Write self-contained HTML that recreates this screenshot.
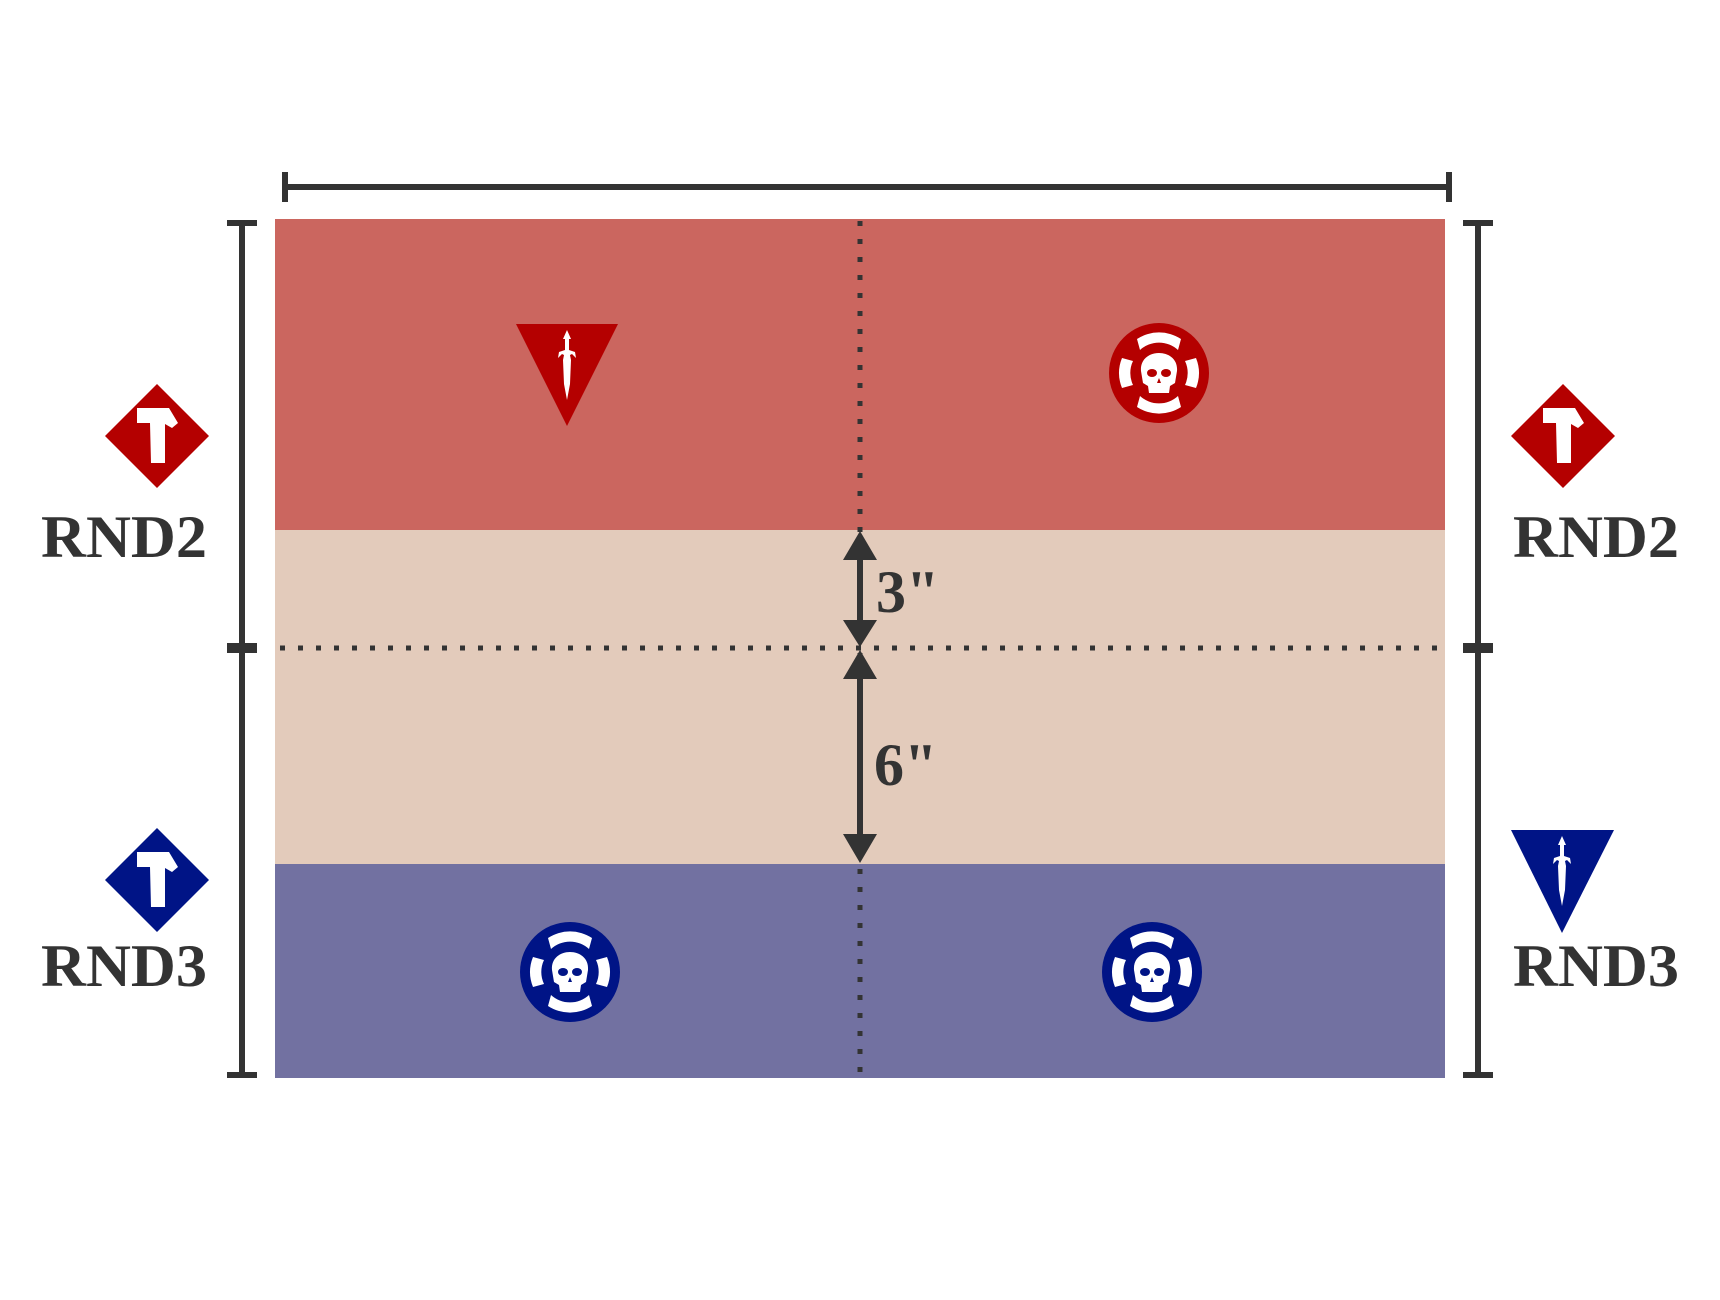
<!DOCTYPE html>
<html><head><meta charset="utf-8"><style>html,body{margin:0;padding:0;background:#fff}svg{display:block}</style></head>
<body>
<svg width="1720" height="1300" viewBox="0 0 1720 1300" xmlns="http://www.w3.org/2000/svg">
<defs>
<g id="skull">
  <path d="M-22,-34 A40,40 0 0 1 22,-34 L19,-23 A28,28 0 0 0 -19,-23 Z" fill="#fff"/>
  <path d="M-22,34 A40,40 0 0 0 22,34 L19,23 A28,28 0 0 1 -19,23 Z" fill="#fff"/>
  <path d="M-37,-15 A40,40 0 0 0 -37,15 L-26,12 A28,28 0 0 1 -26,-12 Z" fill="#fff"/>
  <path d="M37,-15 A40,40 0 0 1 37,15 L26,12 A28,28 0 0 0 26,-12 Z" fill="#fff"/>
  <path d="M-18,-2 C-20,-26 20,-26 18,-2 L16,10 L11,13 L10,20 L-10,20 L-11,13 L-16,10 Z" fill="#fff"/>
  <ellipse cx="-7" cy="0" rx="5" ry="4" fill="currentColor"/>
  <ellipse cx="7" cy="0" rx="5" ry="4" fill="currentColor"/>
  <path d="M0,5 L-2,10 L2,10 Z" fill="currentColor"/>
</g>
<g id="axe">
  <path d="M-20,-27 L12,-27 L21,-12 L15,-7 L8,-11 L8,28 L-6,28 L-7,-12 L-20,-12 Z" fill="#fff"/>
</g>
<g id="dagger">
  <path d="M0,-34 L4,-25 L2,-25 L2,-14 L8,-12 L9,-6 L5,-10 L3,-9 L4,-4 L3,20 L0,36 L-3,20 L-4,-4 L-3,-9 L-5,-10 L-9,-6 L-8,-12 L-2,-14 L-2,-25 L-4,-25 Z" fill="#fff"/>
</g>
</defs>
<rect x="275" y="219" width="1170" height="311" fill="#cb665f"/>
<rect x="275" y="530" width="1170" height="334" fill="#e3cbbb"/>
<rect x="275" y="864" width="1170" height="214" fill="#7271a1"/>
<line x1="860" y1="221" x2="860" y2="1078" stroke="#333" stroke-width="5" stroke-dasharray="5,13"/>
<line x1="280" y1="648" x2="1445" y2="648" stroke="#333" stroke-width="5" stroke-dasharray="5,13"/>
<line x1="285" y1="187" x2="1449" y2="187" stroke="#333" stroke-width="6"/>
<line x1="285" y1="172" x2="285" y2="202" stroke="#333" stroke-width="6"/>
<line x1="1449" y1="172" x2="1449" y2="202" stroke="#333" stroke-width="6"/>
<line x1="242" y1="223" x2="242" y2="1075" stroke="#333" stroke-width="6"/>
<line x1="227" y1="223" x2="257" y2="223" stroke="#333" stroke-width="6"/>
<line x1="227" y1="1075" x2="257" y2="1075" stroke="#333" stroke-width="6"/>
<line x1="227" y1="648" x2="257" y2="648" stroke="#333" stroke-width="10"/>
<line x1="1478" y1="223" x2="1478" y2="1075" stroke="#333" stroke-width="6"/>
<line x1="1463" y1="223" x2="1493" y2="223" stroke="#333" stroke-width="6"/>
<line x1="1463" y1="1075" x2="1493" y2="1075" stroke="#333" stroke-width="6"/>
<line x1="1463" y1="648" x2="1493" y2="648" stroke="#333" stroke-width="10"/>
<line x1="860" y1="555" x2="860" y2="625" stroke="#333" stroke-width="6"/>
<path d="M860,531 L843,560 L877,560 Z M860,647 L843,620 L877,620 Z" fill="#333"/>
<line x1="860" y1="670" x2="860" y2="840" stroke="#333" stroke-width="6"/>
<path d="M860,650 L843,679 L877,679 Z M860,863 L843,834 L877,834 Z" fill="#333"/>
<g font-family="Liberation Serif, serif" font-weight="bold" fill="#333">
<text x="876" y="612" font-size="60">3"</text>
<text x="874" y="785" font-size="60">6"</text>
<text x="41" y="557" font-size="60" textLength="166" lengthAdjust="spacingAndGlyphs">RND2</text>
<text x="41" y="986" font-size="60" textLength="166" lengthAdjust="spacingAndGlyphs">RND3</text>
<text x="1513" y="557" font-size="60" textLength="166" lengthAdjust="spacingAndGlyphs">RND2</text>
<text x="1513" y="986" font-size="60" textLength="166" lengthAdjust="spacingAndGlyphs">RND3</text>
</g>
<path d="M516,324 L618,324 L567,426 Z" fill="#b40000"/>
<use href="#dagger" x="567" y="364"/>
<circle cx="1159" cy="373" r="50" fill="#b40000"/>
<use href="#skull" x="1159" y="373" color="#b40000"/>
<circle cx="570" cy="972" r="50" fill="#001486"/>
<use href="#skull" x="570" y="972" color="#001486"/>
<circle cx="1152" cy="972" r="50" fill="#001486"/>
<use href="#skull" x="1152" y="972" color="#001486"/>
<path d="M157,384 L209,436 L157,488 L105,436 Z" fill="#b40000"/>
<use href="#axe" x="157" y="435"/>
<path d="M1563,384 L1615,436 L1563,488 L1511,436 Z" fill="#b40000"/>
<use href="#axe" x="1563" y="435"/>
<path d="M157,828 L209,880 L157,932 L105,880 Z" fill="#001486"/>
<use href="#axe" x="157" y="879"/>
<path d="M1511,830 L1614,830 L1562,933 Z" fill="#001486"/>
<use href="#dagger" x="1562" y="870"/>
</svg>
</body></html>
